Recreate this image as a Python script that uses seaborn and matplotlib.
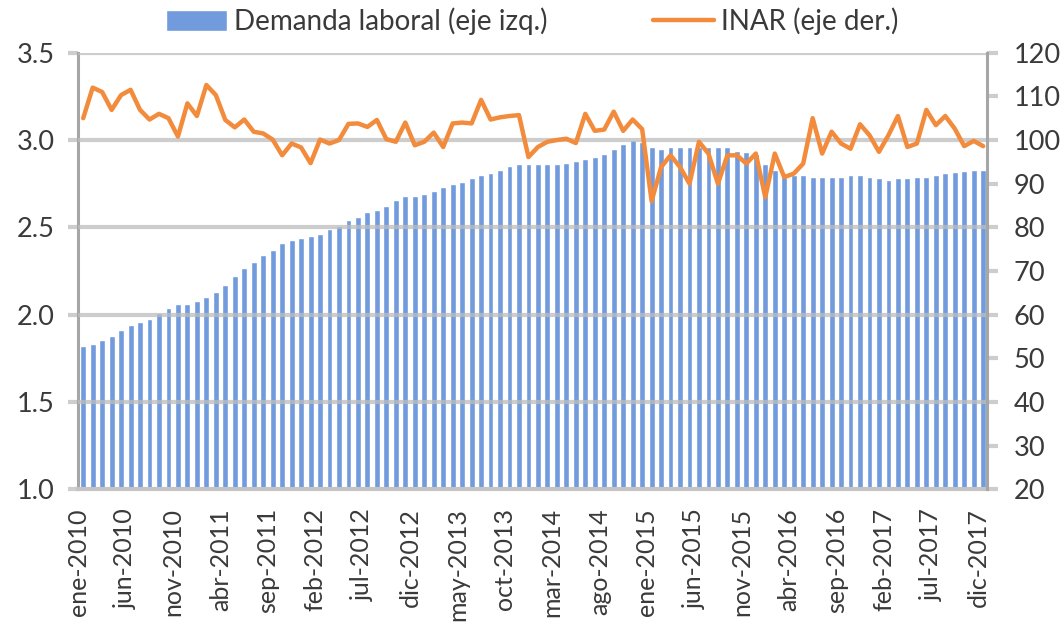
import numpy as np
import pandas as pd
import matplotlib
matplotlib.use("Agg")
import matplotlib.pyplot as plt
from matplotlib.ticker import FormatStrFormatter
import seaborn as sns

# Meses ene-2010 .. dic-2017
MESES_ABR = ["ene", "feb", "mar", "abr", "may", "jun",
             "jul", "ago", "sep", "oct", "nov", "dic"]
ANIOS = list(range(2010, 2018))
meses = [f"{m}-{a}" for a in ANIOS for m in MESES_ABR]

# Demanda laboral (eje izq.)
demanda = [
    1.82, 1.83, 1.855, 1.88, 1.91, 1.94, 1.96, 1.975, 2.01, 2.04,
    2.06, 2.06, 2.08, 2.10, 2.13, 2.17, 2.22, 2.27, 2.30, 2.34,
    2.37, 2.41, 2.43, 2.44, 2.45, 2.46, 2.49, 2.51, 2.54, 2.56,
    2.59, 2.60, 2.62, 2.655, 2.68, 2.68, 2.69, 2.71, 2.73, 2.75,
    2.76, 2.78, 2.80, 2.81, 2.83, 2.85, 2.86, 2.86, 2.86, 2.86,
    2.86, 2.87, 2.88, 2.89, 2.90, 2.92, 2.95, 2.98, 3.00, 2.99,
    2.96, 2.95, 2.96, 2.96, 2.96, 2.96, 2.96, 2.96, 2.96, 2.94,
    2.93, 2.92, 2.86, 2.83, 2.81, 2.80, 2.80, 2.79, 2.79, 2.79,
    2.79, 2.80, 2.80, 2.79, 2.78, 2.77, 2.78, 2.78, 2.79, 2.79,
    2.80, 2.81, 2.815, 2.82, 2.83, 2.83,
]

# INAR (eje der.)
inar = [
    105.0, 112.0, 111.0, 106.9, 110.3, 111.5, 106.9, 104.7, 106.0, 105.0,
    100.8, 108.4, 105.5, 112.6, 110.3, 104.6, 102.9, 104.7, 101.9, 101.5,
    100.1, 96.5, 99.2, 98.3, 94.7, 100.1, 99.2, 100.0, 103.7, 103.8,
    103.0, 104.6, 100.2, 99.6, 104.0, 98.8, 99.6, 101.7, 98.4, 103.8,
    104.0, 103.8, 109.2, 104.7, 105.2, 105.5, 105.7, 96.1, 98.4, 99.6,
    100.0, 100.3, 99.3, 106.0, 102.1, 102.4, 106.5, 102.1, 104.7, 102.5,
    86.0, 93.8, 96.5, 93.8, 90.0, 99.6, 96.9, 90.0, 96.5, 96.5,
    94.6, 96.9, 86.9, 96.9, 91.5, 92.3, 94.6, 105.0, 96.9, 101.9,
    99.2, 98.0, 103.6, 101.1, 97.3, 101.1, 105.5, 98.4, 99.2, 106.9,
    103.4, 105.5, 102.6, 98.6, 99.8, 98.6,
]

df = pd.DataFrame({"pos": np.arange(len(meses)), "mes": meses,
                   "demanda": demanda, "inar": inar})

BAR_COLOR = "#719bdc"
LINE_COLOR = "#f28b3c"
GRID_COLOR = "#cdcdcd"
TEXT_COLOR = "#3a3a3a"
FS = 19.5

sns.set_style("white")
plt.rcParams["font.family"] = ["Lato", "DejaVu Sans"]
plt.rcParams["font.size"] = FS

fig = plt.figure(figsize=(10.64, 6.26), dpi=100)
ax = fig.add_axes([0.0733, 0.2184, 0.8543, 0.6974])

sns.barplot(data=df, x="pos", y="demanda", color=BAR_COLOR, saturation=1,
            width=0.62, ax=ax, label="Demanda laboral (eje izq.)", zorder=2)
if ax.get_legend() is not None:
    ax.get_legend().remove()
ax.set_ylim(1.0, 3.5)
ax.set_yticks(np.arange(1.0, 3.51, 0.5))
ax.yaxis.set_major_formatter(FormatStrFormatter("%.1f"))
for yv in np.arange(1.5, 3.51, 0.5):
    ax.axhline(yv, color="#bdbdbd", lw=3, alpha=0.75, zorder=3)

ax2 = ax.twinx()
sns.lineplot(data=df, x="pos", y="inar", ax=ax2, color=LINE_COLOR, lw=3.2,
             label="INAR (eje der.)", solid_joinstyle="round")
ax2.get_legend().remove()
ax2.set_ylim(20, 120)
ax2.set_yticks(np.arange(20, 121, 10))

# ejes y etiquetas
ax.set_xlim(-0.55, 95.4)
ticks = np.arange(0, len(meses), 5)
ax.set_xticks(ticks - 0.5)
ax.set_xticklabels([meses[i] for i in ticks], rotation=90)
for a in (ax, ax2):
    a.set_xlabel("")
    a.set_ylabel("")
    for s in a.spines.values():
        s.set_visible(False)

ax.spines["left"].set_visible(True)
ax.spines["left"].set_color("#a6a6a6")
ax.spines["left"].set_linewidth(2.2)
ax.spines["bottom"].set_visible(True)
ax.spines["bottom"].set_color("#c4c4c4")
ax.spines["bottom"].set_linewidth(3)
ax2.spines["right"].set_visible(True)
ax2.spines["right"].set_color("#a6a6a6")
ax2.spines["right"].set_linewidth(2.2)

ax.tick_params(axis="y", direction="out", length=7, width=3, color=GRID_COLOR,
               pad=10, labelcolor=TEXT_COLOR, labelsize=FS)
ax.tick_params(axis="x", direction="out", length=6.5, width=2.5, color=GRID_COLOR,
               pad=7, labelcolor=TEXT_COLOR, labelsize=18)
ax2.tick_params(axis="y", direction="out", length=8, width=3, color=GRID_COLOR,
                pad=11, labelcolor=TEXT_COLOR, labelsize=FS)

h1, l1 = ax.get_legend_handles_labels()
h2, l2 = ax2.get_legend_handles_labels()
fig.legend(h1 + h2, l1 + l2, loc="center", bbox_to_anchor=(0.5, 0.966), ncol=2,
           frameon=False, fontsize=20, labelcolor=TEXT_COLOR, handlelength=2.2,
           handleheight=0.75, handletextpad=0.25, columnspacing=3.8)

fig.savefig("out.png", dpi=100)
plt.close(fig)
